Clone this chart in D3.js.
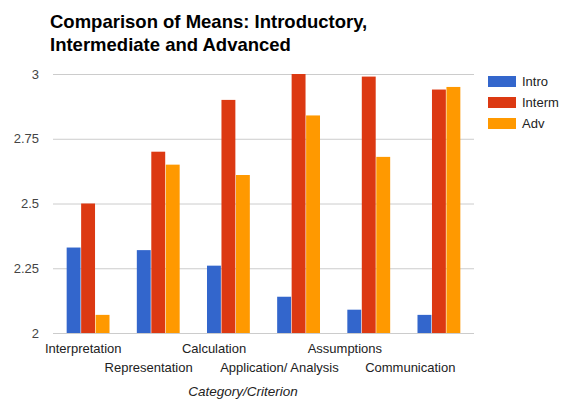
<!DOCTYPE html>
<html>
<head>
<meta charset="utf-8">
<script src="https://cdn.jsdelivr.net/npm/d3@7"></script>
<style>
  body { margin: 0; background: #fff; }
  text { font-family: Arial, "Liberation Sans", sans-serif; }
</style>
</head>
<body>
<div id="chart"></div>
<script>
// data
var categories = ["Interpretation", "Representation", "Calculation", "Application/ Analysis", "Assumptions", "Communication"];
var seriesNames = ["Intro", "Interm", "Adv"];
var intro  = [2.33, 2.32, 2.26, 2.14, 2.09, 2.07];
var interm = [2.50, 2.70, 2.90, 3.00, 2.99, 2.94];
var adv    = [2.07, 2.65, 2.61, 2.84, 2.68, 2.95];
var yTicks = [2, 2.25, 2.5, 2.75, 3];
var colors = ["#3366cc", "#dc3912", "#ff9900"];

var width = 561, height = 402;
var svg = d3.select("#chart").append("svg")
    .attr("width", width)
    .attr("height", height);

var series = [intro, interm, adv];

var x = d3.scaleBand().domain(categories).range([53, 474]);
var x1 = d3.scaleBand().domain(seriesNames).range([0, 44]).padding(0.04);
var y = d3.scaleLinear().domain([2, 3]).range([333, 74]);
// labels in the original sit on a slightly narrower band than the bars
var xLabel = d3.scaleBand().domain(categories).range([50.5, 443]);

// gridlines + y labels
svg.append("g").selectAll("line")
  .data(yTicks)
  .enter().append("line")
  .attr("x1", 53).attr("x2", 474)
  .attr("y1", function(d) { return y(d) + 0.5; })
  .attr("y2", function(d) { return y(d) + 0.5; })
  .attr("stroke", "#cccccc");

svg.append("g").selectAll("text")
  .data(yTicks)
  .enter().append("text")
  .attr("x", 39)
  .attr("y", function(d) { return y(d) + 4.5; })
  .attr("text-anchor", "end")
  .attr("font-size", 13)
  .attr("fill", "#444")
  .text(function(d) { return d; });

// bars
var groups = svg.append("g").selectAll("g")
  .data(categories)
  .enter().append("g")
  .attr("transform", function(d) { return "translate(" + (x(d) + (x.bandwidth() - 44) / 2) + ",0)"; });

groups.selectAll("rect")
  .data(function(d, i) {
    return series.map(function(s, j) { return {name: seriesNames[j], value: s[i], color: colors[j]}; });
  })
  .enter().append("rect")
  .attr("x", function(d) { return x1(d.name); })
  .attr("width", x1.bandwidth())
  .attr("y", function(d) { return y(d.value); })
  .attr("height", function(d) { return y(2) - y(d.value); })
  .attr("fill", function(d) { return d.color; });

// x labels, alternating rows
svg.append("g").selectAll("text")
  .data(categories)
  .enter().append("text")
  .attr("x", function(d) { return xLabel(d) + xLabel.bandwidth() / 2; })
  .attr("y", function(d, i) { return i % 2 === 0 ? 353 : 372; })
  .attr("text-anchor", "middle")
  .attr("font-size", 13)
  .attr("fill", "#222")
  .text(function(d) { return d; });

svg.append("text")
  .attr("x", 243).attr("y", 396)
  .attr("text-anchor", "middle")
  .attr("font-size", 13.5)
  .attr("font-style", "italic")
  .attr("fill", "#222")
  .text("Category/Criterion");

// title
var title = svg.append("text")
  .attr("font-size", 18.5)
  .attr("font-weight", "bold")
  .attr("fill", "#000");
title.append("tspan").attr("x", 50).attr("y", 28).text("Comparison of Means: Introductory,");
title.append("tspan").attr("x", 50).attr("y", 51).text("Intermediate and Advanced");

// legend
var legend = svg.append("g").selectAll("g")
  .data(seriesNames)
  .enter().append("g")
  .attr("transform", function(d, i) { return "translate(488," + (76 + i * 21) + ")"; });

legend.append("rect")
  .attr("width", 28).attr("height", 11)
  .attr("fill", function(d, i) { return colors[i]; });

legend.append("text")
  .attr("x", 34).attr("y", 10)
  .attr("font-size", 13)
  .attr("fill", "#222")
  .text(function(d) { return d; });
</script>
</body>
</html>
